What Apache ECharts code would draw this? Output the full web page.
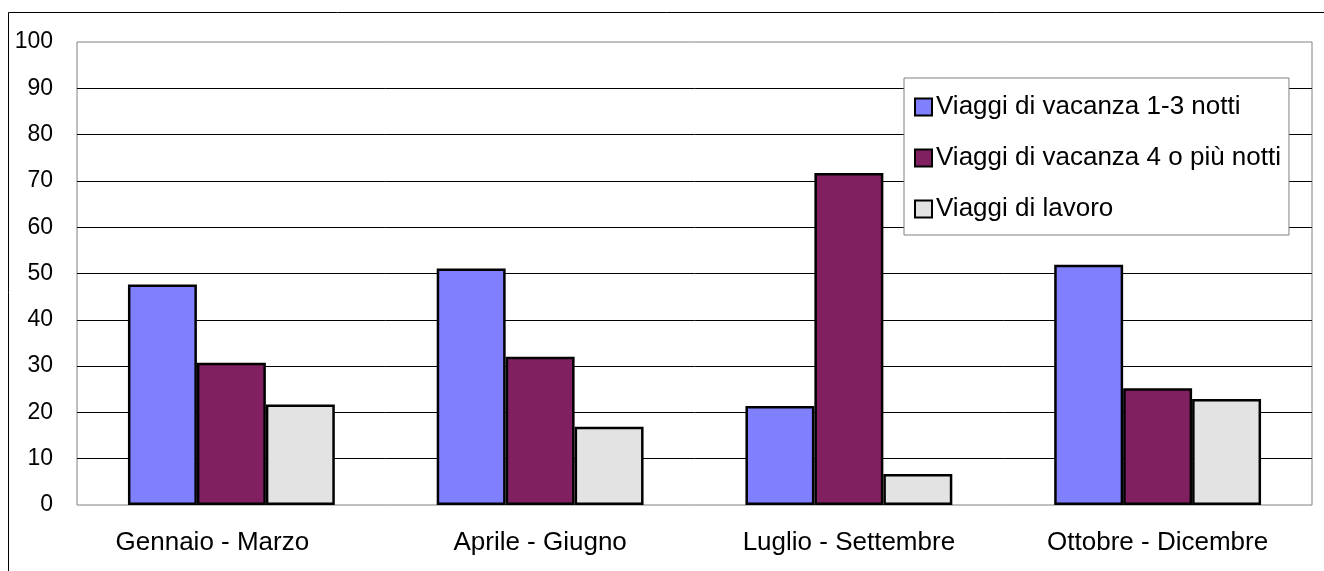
<!DOCTYPE html>
<html>
<head>
<meta charset="utf-8">
<script src="https://cdn.jsdelivr.net/npm/echarts@6/dist/echarts.min.js"></script>
<style>
    html, body { margin: 0; padding: 0; background: #fff; }
    #echarts-main { width: 1324px; height: 571px; }
</style>
</head>
<body>
<div id="echarts-main"></div>
<script>
    // dati
    const periodi = ['Gennaio - Marzo', 'Aprile - Giugno', 'Luglio - Settembre', 'Ottobre - Dicembre']
    const vacanzaBreve = [47.6, 51.1, 21.4, 51.9]
    const vacanzaLunga = [30.7, 32.0, 71.7, 25.2]
    const lavoro = [21.7, 16.9, 6.7, 22.9]
    const nomiSerie = ['Viaggi di vacanza 1-3 notti', 'Viaggi di vacanza 4 o più notti', 'Viaggi di lavoro']
    const colori = ['#8080ff', '#802060', '#e3e3e3']

    const font = 'Arial, "Liberation Sans", sans-serif'

    let myChart = echarts.init(document.getElementById('echarts-main'))

    const serieDati = [vacanzaBreve, vacanzaLunga, lavoro]
    const series = serieDati.map((d, i) => ({
        name: nomiSerie[i],
        type: 'bar',
        data: d,
        barGap: '0%',
        barCategoryGap: '33%',
        itemStyle: {
            color: colori[i],
            borderColor: '#000',
            borderWidth: 2.5
        }
    }))

    // nel grafico originale la prima etichetta è un po' spostata a sinistra
    const categorie = periodi.map((p, i) => i === 0
        ? { value: p, textStyle: { padding: [0, 38, 0, 0] } }
        : p)

    const option = {
        animation: false,
        textStyle: { fontFamily: font },
        graphic: [
            {
                type: 'rect',
                shape: { x: 8.5, y: 12.5, width: 1400, height: 600 },
                style: { fill: 'none', stroke: '#000', lineWidth: 1 },
                z: 0
            }
        ],
        grid: {
            left: 77,
            top: 42,
            right: 12,
            bottom: 66,
            show: true,
            borderColor: '#808080',
            borderWidth: 1
        },
        xAxis: {
            type: 'category',
            data: categorie,
            axisLine: { show: false },
            axisTick: { show: false },
            axisLabel: {
                color: '#000',
                fontSize: 26,
                margin: 25,
                fontFamily: font
            }
        },
        yAxis: {
            type: 'value',
            min: 0,
            max: 100,
            interval: 10,
            axisLine: { show: false },
            axisTick: { show: false },
            axisLabel: {
                color: '#000',
                fontSize: 23,
                margin: 24,
                fontFamily: font
            },
            splitLine: {
                showMinLine: false,
                showMaxLine: false,
                lineStyle: { color: '#000', width: 1 }
            }
        },
        legend: {
            orient: 'vertical',
            left: 904,
            top: 78,
            padding: [16, 8, 13, 10],
            itemGap: 25,
            itemWidth: 17,
            itemHeight: 17,
            icon: 'rect',
            itemStyle: { borderColor: '#000', borderWidth: 2 },
            backgroundColor: '#fff',
            borderColor: '#808080',
            borderWidth: 1,
            borderRadius: 0,
            textStyle: {
                color: '#000',
                fontSize: 26,
                fontFamily: font,
                padding: [0, 0, 0, -1]
            },
            data: nomiSerie
        },
        series: series
    }

    option && myChart.setOption(option)
</script>
</body>
</html>
